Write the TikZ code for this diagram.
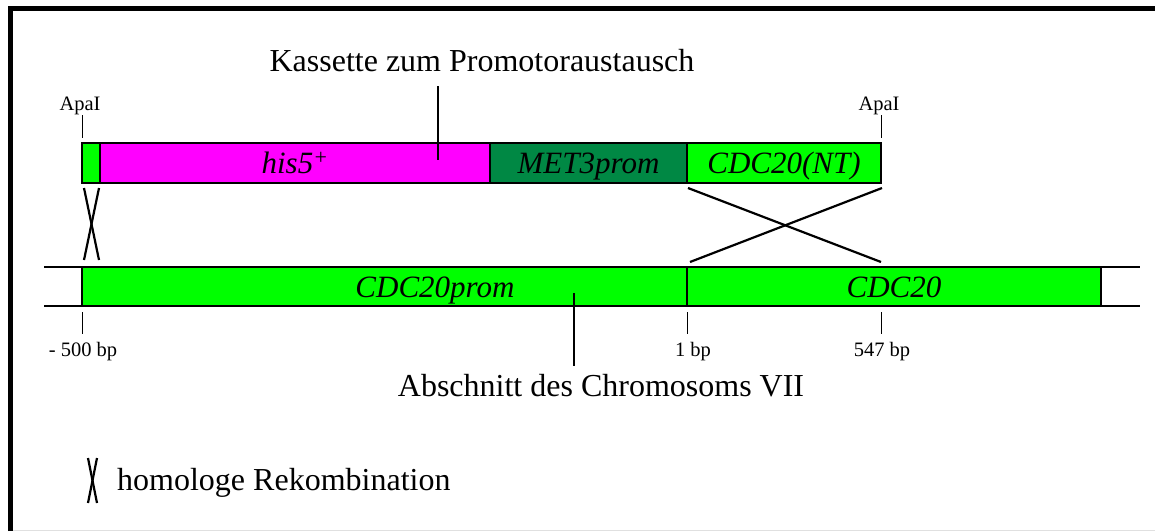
\documentclass[tikz,border=0pt]{standalone}
\usepackage{fontspec}
\setmainfont{Liberation Serif}
\definecolor{mag}{RGB}{255,0,255}
\definecolor{lgreen}{RGB}{0,255,0}
\definecolor{dgreen}{RGB}{0,136,68}
\begin{document}
\begin{tikzpicture}[x=1pt,y=-1pt,
 seg/.style={draw=black, line width=2pt, inner sep=0pt, outer sep=0pt, rectangle},
 topseg/.style={seg, minimum height=40, text height=21, text depth=0pt, font=\fontsize{31}{36}\selectfont\itshape},
 botseg/.style={seg, minimum height=39, text height=21, text depth=0pt, font=\fontsize{31}{36}\selectfont\itshape},
 big/.style={font=\fontsize{32}{36}\selectfont, inner sep=0pt, anchor=base},
 bartxt/.style={font=\fontsize{31}{36}\selectfont\itshape, inner sep=0pt, anchor=base},
 small/.style={font=\fontsize{20.5}{24}\selectfont, inner sep=0pt, anchor=base},
 xline/.style={line width=2.2pt},
 tickline/.style={line width=0.9pt},
 pointer/.style={line width=2pt}]
\useasboundingbox (0,0) rectangle (1155,531);
\fill[white] (0,0) rectangle (1155,531);
% frame
\draw[line width=5pt] (10.5,531) -- (10.5,8.5) -- (1155,8.5);
\draw[black!12, line width=1pt] (13,530.5) -- (1155,530.5);

% chromosome lines
\coordinate (cl1) at (44,267);
\coordinate (cr1) at (1140,267);
\coordinate (cl2) at (44,306);
\coordinate (cr2) at (1140,306);
\draw[line width=2pt] (cl1) -- (cr1);
\draw[line width=2pt] (cl2) -- (cr2);

% cassette
\node[topseg, fill=lgreen, minimum width=18] (g1) at (91,163) {};
\node[topseg, fill=mag, minimum width=390] (his) at (295,163) {his5\textsuperscript{+}};
\node[topseg, fill=dgreen, minimum width=197] (met) at (588.5,163) {MET3prom};
\node[topseg, fill=lgreen, minimum width=194] (nt) at (784,163) {CDC20(NT)};

% chromosome
\node[botseg, fill=lgreen, minimum width=605] (prom) at (384.5,286.5) {};
\node[bartxt] (promtxt) at (435,297) {CDC20prom};
\node[botseg, fill=lgreen, minimum width=414] (cdc) at (894,286.5) {CDC20};

% titles
\node[big] (kas) at (482,71) {Kassette zum Promotoraustausch};
\node[big] (abs) at (601,396) {Abschnitt des Chromosoms VII};
\coordinate (kasA) at (438,86);
\coordinate (kasB) at (438,160);
\draw[pointer] (kasA) -- (kasB);
\coordinate (absA) at (574,293);
\coordinate (absB) at (574,366);
\draw[pointer] (absA) -- (absB);

% ApaI
\node[small] (apa1) at (80,110) {ApaI};
\node[small] (apa2) at (879,110) {ApaI};
\coordinate (t1a) at (82,115); \coordinate (t1b) at (82,138);
\coordinate (t2a) at (881,115); \coordinate (t2b) at (881,138);
\draw[tickline] (t1a) -- (t1b);
\draw[tickline] (t2a) -- (t2b);

% bottom ticks and labels
\coordinate (b1a) at (82,312); \coordinate (b1b) at (82,334);
\coordinate (b2a) at (687,312); \coordinate (b2b) at (687,334);
\coordinate (b3a) at (881,312); \coordinate (b3b) at (881,334);
\draw[tickline] (b1a) -- (b1b);
\draw[tickline] (b2a) -- (b2b);
\draw[tickline] (b3a) -- (b3b);
\node[small] (l500) at (83,356) {- 500 bp};
\node[small] (l1) at (693,356) {1 bp};
\node[small] (l547) at (882,356) {547 bp};

% crossovers
\coordinate (s1) at (84,188); \coordinate (s2) at (99,260);
\coordinate (s3) at (99,188); \coordinate (s4) at (84,260);
\draw[xline] (s1) -- (s2);
\draw[xline] (s3) -- (s4);
\coordinate (x1) at (688,188); \coordinate (x2) at (881,262);
\coordinate (x3) at (882,188); \coordinate (x4) at (690,262);
\draw[xline] (x1) -- (x2);
\draw[xline] (x3) -- (x4);

% legend
\coordinate (lg1) at (88,458); \coordinate (lg2) at (97,503);
\coordinate (lg3) at (97,458); \coordinate (lg4) at (88,503);
\draw[xline] (lg1) -- (lg2);
\draw[xline] (lg3) -- (lg4);
\node[big, anchor=base west] (leg) at (117,490) {homologe Rekombination};
\end{tikzpicture}
\end{document}
